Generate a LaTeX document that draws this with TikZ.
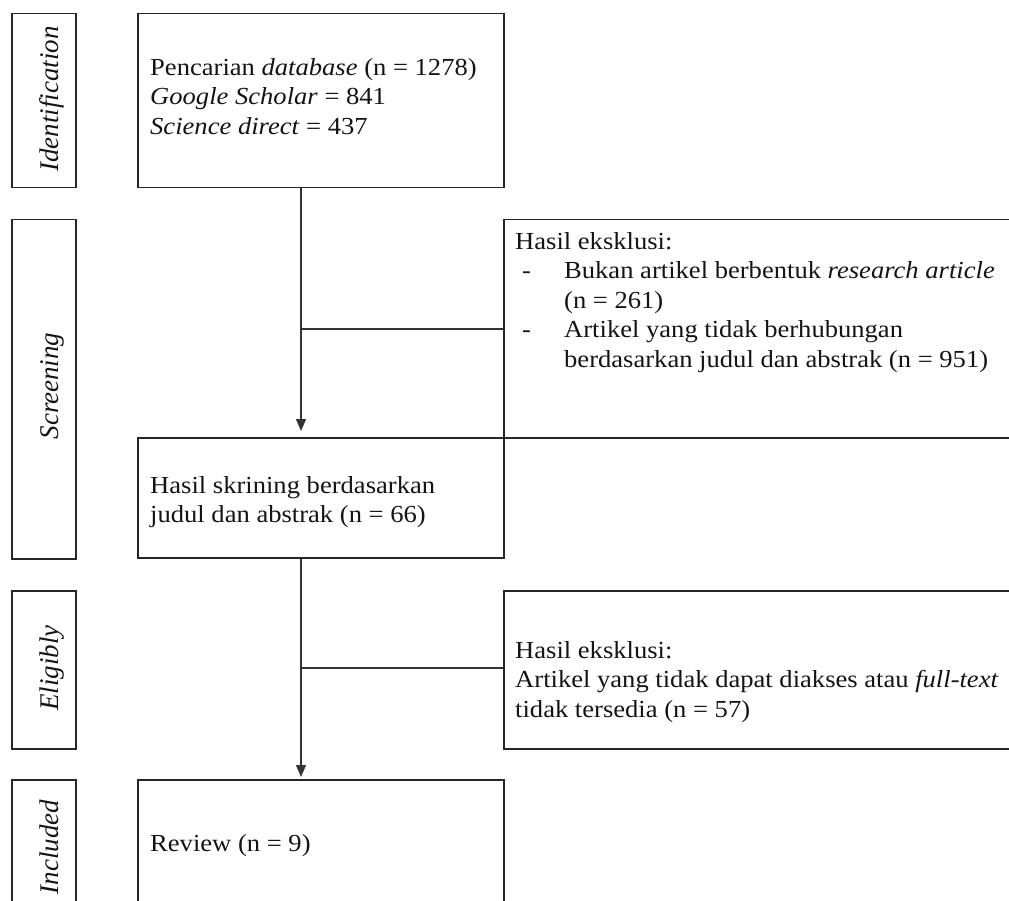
\documentclass[tikz,border=0pt]{standalone}
\usepackage{fontspec}
\setmainfont[FakeStretch=1.085]{Liberation Serif}
\newfontfamily\lblfont{Liberation Serif}
\usetikzlibrary{arrows.meta}
\begin{document}
\begin{tikzpicture}[x=1pt,y=-1pt,
  frame/.style={draw=black!85, line width=1.5pt, rectangle, inner sep=0pt, anchor=north west},
  txt/.style={inner sep=0pt, anchor=north west, align=left, text=black!92,
    font=\fontsize{24.5}{29.5}\selectfont},
  lbl/.style={inner sep=0pt, anchor=base, rotate=90, text=black!92,
    font=\lblfont\itshape\fontsize{27}{30}\selectfont},
  link/.style={draw=black!80, line width=1.2pt},
  flow/.style={link, -{Triangle[length=12pt,width=10pt]}}]
\useasboundingbox (0,0) rectangle (1009,901);
\begin{scope}
\clip (0,0) rectangle (1009,901);
% stage label frames
\node[frame, minimum width=64pt, minimum height=174pt] (fid) at (11,13) {};
\node[frame, minimum width=64pt, minimum height=339pt] (fsc) at (11,219) {};
\node[frame, minimum width=64pt, minimum height=158pt] (fel) at (11,590) {};
\node[frame, minimum width=64pt, minimum height=140pt] (fin) at (11,779) {};
\node[lbl] (lid) at (58,99) {Identification};
\node[lbl] (lsc) at (58,386) {Screening};
\node[lbl] (lel) at (58,668) {Eligibly};
\node[lbl] (lin) at (58,847) {Included};
% main boxes
\node[frame, minimum width=366pt, minimum height=174pt] (b1) at (137,13) {};
\node[frame, minimum width=366pt, minimum height=120pt] (b2) at (137,437) {};
\node[frame, minimum width=366pt, minimum height=140pt] (b3) at (137,779) {};
\node[frame, minimum width=520pt, minimum height=218pt] (r1) at (503,219) {};
\node[frame, minimum width=520pt, minimum height=158pt] (r2) at (503,590) {};
% texts
\node[txt] (t1) at (150,58) {Pencarian \textit{database} (n = 1278)\\\textit{Google Scholar} = 841\\\textit{Science direct} = 437};
\node[txt] (t2) at (150,476) {Hasil skrining berdasarkan\\judul dan abstrak (n = 66)};
\node[txt] (t3) at (150,834) {Review (n = 9)};
\node[txt] (tr1) at (515,232) {Hasil eksklusi:\\
\hspace*{7pt}\makebox[42pt][l]{-}Bukan artikel berbentuk \textit{research article}\\
\hspace*{49pt}(n = 261)\\
\hspace*{7pt}\makebox[42pt][l]{-}Artikel yang tidak berhubungan\\
\hspace*{49pt}berdasarkan judul dan abstrak (n = 951)};
\node[txt] (tr2) at (515,641) {Hasil eksklusi:\\Artikel yang tidak dapat diakses atau \textit{full-text}\\tidak tersedia (n = 57)};
% connectors
\coordinate (j1) at (301,329);
\coordinate (j2) at (301,668);
\draw[flow, shorten >=6pt] (b1.south -| j1) -- (b2.north -| j1);
\draw[link] (j1) -- (j1 -| r1.west);
\draw[flow, shorten >=2pt] (b2.south -| j2) -- (b3.north -| j2);
\draw[link] (j2) -- (j2 -| r2.west);
\end{scope}
\end{tikzpicture}
\end{document}
